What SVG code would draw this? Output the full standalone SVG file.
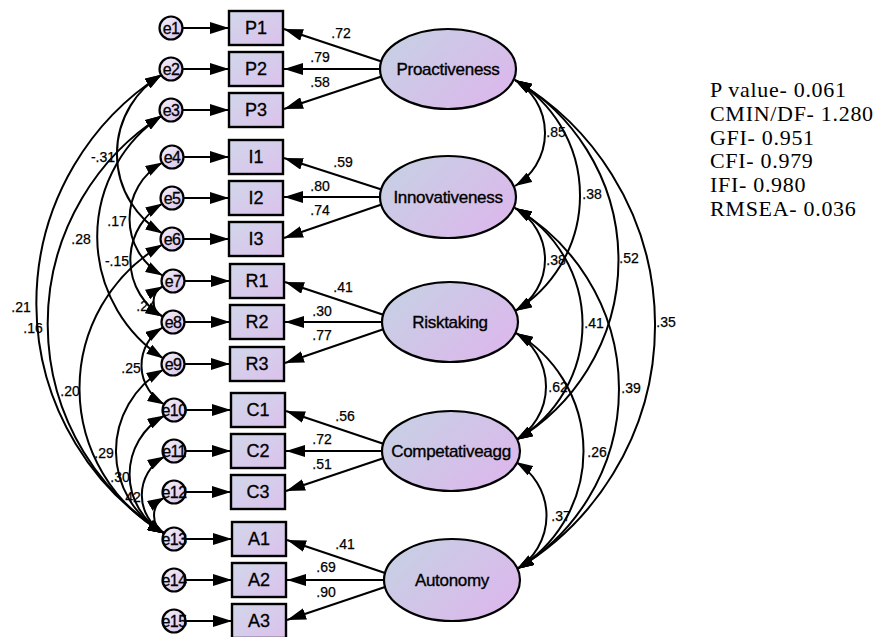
<svg xmlns="http://www.w3.org/2000/svg" width="888" height="637" viewBox="0 0 888 637">
<defs>
<linearGradient id="gBox" x1="0" y1="0" x2="1" y2="1">
<stop offset="0" stop-color="#d1d7ea"/><stop offset="1" stop-color="#dbc1ec"/>
</linearGradient>
<linearGradient id="gEll" x1="0" y1="0.2" x2="1" y2="0.8">
<stop offset="0" stop-color="#c7d0e4"/><stop offset="1" stop-color="#dcb7ec"/>
</linearGradient>
<linearGradient id="gErr" x1="0" y1="0" x2="1" y2="1">
<stop offset="0" stop-color="#f3f1f9"/><stop offset="1" stop-color="#d9c2ec"/>
</linearGradient>
<marker id="ah" viewBox="0 0 19 12" refX="19" refY="6" markerWidth="19" markerHeight="12" markerUnits="userSpaceOnUse" orient="auto-start-reverse">
<path d="M0,0 L19,6 L0,12 z" fill="#000"/>
</marker>
<marker id="ch" viewBox="0 0 17 11" refX="17" refY="5.5" markerWidth="17" markerHeight="11" markerUnits="userSpaceOnUse" orient="auto-start-reverse">
<path d="M0,0 L17,5.5 L0,11 z" fill="#000"/>
</marker>
</defs>
<style>
.box{fill:url(#gBox);stroke:#000;stroke-width:2.4}
.ell{fill:url(#gEll);stroke:#000;stroke-width:2.2}
.err{fill:url(#gErr);stroke:#000;stroke-width:2.2}
.ln{fill:none;stroke:#000;stroke-width:2.2;marker-end:url(#ah)}
.cov{fill:none;stroke:#000;stroke-width:2;marker-start:url(#ch);marker-end:url(#ch)}
.bt{font-family:"Liberation Sans",Arial,sans-serif;font-size:18px;text-anchor:middle;fill:#000;stroke:#000;stroke-width:0.3}
.et{font-family:"Liberation Sans",Arial,sans-serif;font-size:16px;text-anchor:middle;fill:#000;letter-spacing:-0.6px;stroke:#000;stroke-width:0.3}
.lt{font-family:"Liberation Sans",Arial,sans-serif;font-size:17px;text-anchor:middle;fill:#000;letter-spacing:-0.3px;stroke:#000;stroke-width:0.35}
.nt{font-family:"Liberation Sans",Arial,sans-serif;font-size:14px;text-anchor:middle;fill:#000;stroke:#000;stroke-width:0.25}
.st{font-family:"Liberation Serif","Times New Roman",serif;font-size:22px;letter-spacing:0.7px;fill:#000}
</style>

<g id="connectors">
<line class="ln" x1="183" y1="28" x2="229" y2="28"/>
<line class="ln" x1="183" y1="69" x2="229" y2="69"/>
<line class="ln" x1="183" y1="110" x2="229" y2="110"/>
<line class="ln" x1="184" y1="157" x2="229" y2="157"/>
<line class="ln" x1="184" y1="198" x2="229" y2="198"/>
<line class="ln" x1="184" y1="239" x2="229" y2="239"/>
<line class="ln" x1="184" y1="281" x2="230" y2="281"/>
<line class="ln" x1="184" y1="322" x2="230" y2="322"/>
<line class="ln" x1="185" y1="364" x2="230" y2="364"/>
<line class="ln" x1="186" y1="410" x2="231" y2="410"/>
<line class="ln" x1="186" y1="451" x2="231" y2="451"/>
<line class="ln" x1="186" y1="492" x2="231" y2="492"/>
<line class="ln" x1="186" y1="539" x2="232" y2="539"/>
<line class="ln" x1="186" y1="580" x2="232" y2="580"/>
<line class="ln" x1="186" y1="621" x2="232" y2="621"/>
<line class="ln" x1="383" y1="62" x2="284" y2="29"/>
<line class="ln" x1="382" y1="69" x2="284" y2="69"/>
<line class="ln" x1="383" y1="76" x2="284" y2="109"/>
<line class="ln" x1="383" y1="190" x2="284" y2="158"/>
<line class="ln" x1="382" y1="197" x2="284" y2="197"/>
<line class="ln" x1="383" y1="204" x2="284" y2="238"/>
<line class="ln" x1="384" y1="315" x2="285" y2="282"/>
<line class="ln" x1="383" y1="322" x2="285" y2="322"/>
<line class="ln" x1="384" y1="329" x2="285" y2="363"/>
<line class="ln" x1="384" y1="444" x2="286" y2="411"/>
<line class="ln" x1="383" y1="451" x2="286" y2="451"/>
<line class="ln" x1="384" y1="458" x2="286" y2="491"/>
<line class="ln" x1="385" y1="573" x2="287" y2="540"/>
<line class="ln" x1="384" y1="580" x2="287" y2="580"/>
<line class="ln" x1="385" y1="587" x2="287" y2="620"/>
<path class="cov" d="M515,80 A61.8,61.8 0 0 1 515,186"/>
<path class="cov" d="M515,80 A135.1,135.1 0 0 1 515,311"/>
<path class="cov" d="M515,80 A208.8,208.8 0 0 1 516,440"/>
<path class="cov" d="M515,80 A284.5,284.5 0 0 1 517,569"/>
<path class="cov" d="M515,208 A59.2,59.2 0 0 1 515,311"/>
<path class="cov" d="M515,208 A133.9,133.9 0 0 1 516,440"/>
<path class="cov" d="M515,208 A209.7,209.7 0 0 1 517,569"/>
<path class="cov" d="M516,333 A62.7,62.7 0 0 1 516,440"/>
<path class="cov" d="M516,333 A137.4,137.4 0 0 1 517,569"/>
<path class="cov" d="M516,462 A62.7,62.7 0 0 1 517,569"/>
<path class="cov" d="M162,74.5 A92.4,92.4 0 0 0 162.5,233.5"/>
<path class="cov" d="M162,115.5 A145.4,145.4 0 0 0 163.5,358.5"/>
<path class="cov" d="M162.5,162.5 A64.9,64.9 0 0 0 162.5,275.5"/>
<path class="cov" d="M162.5,203.5 A65.7,65.7 0 0 0 162.5,316.5"/>
<path class="cov" d="M162.5,286.5 A17,17 0 0 0 162.5,316.5"/>
<path class="cov" d="M162,74.5 A271,271 0 0 0 164.5,533.5"/>
<path class="cov" d="M162,115.5 A246.8,246.8 0 0 0 164.5,533.5"/>
<path class="cov" d="M162.5,327.5 A44.7,44.7 0 0 0 164.5,404.5"/>
<path class="cov" d="M162.5,244.5 A166.3,166.3 0 0 0 164.5,533.5"/>
<path class="cov" d="M163.5,369.5 A94,94 0 0 0 164.5,533.5"/>
<path class="cov" d="M164.5,415.5 A67.3,67.3 0 0 0 164.5,533.5"/>
<path class="cov" d="M164.5,456.5 A44,44 0 0 0 164.5,533.5"/>
<path class="cov" d="M164.5,497.5 A20.7,20.7 0 0 0 164.5,533.5"/>
</g>

<g id="labels">
<text class="nt" x="341" y="38">.72</text>
<text class="nt" x="320" y="62">.79</text>
<text class="nt" x="320" y="87">.58</text>
<text class="nt" x="343" y="167">.59</text>
<text class="nt" x="320" y="191">.80</text>
<text class="nt" x="320" y="215">.74</text>
<text class="nt" x="343" y="292">.41</text>
<text class="nt" x="322" y="316">.30</text>
<text class="nt" x="322" y="340">.77</text>
<text class="nt" x="345" y="421">.56</text>
<text class="nt" x="322" y="444">.72</text>
<text class="nt" x="322" y="469">.51</text>
<text class="nt" x="345" y="549">.41</text>
<text class="nt" x="326" y="572">.69</text>
<text class="nt" x="326" y="597">.90</text>
<text class="nt" x="556" y="137">.85</text>
<text class="nt" x="592" y="199">.38</text>
<text class="nt" x="629" y="263">.52</text>
<text class="nt" x="666" y="327">.35</text>
<text class="nt" x="556" y="265">.38</text>
<text class="nt" x="594" y="328">.41</text>
<text class="nt" x="558" y="392">.62</text>
<text class="nt" x="631" y="393">.39</text>
<text class="nt" x="597" y="457">.26</text>
<text class="nt" x="561" y="521">.37</text>
<text class="nt" x="103" y="162">-.31</text>
<text class="nt" x="117" y="226">.17</text>
<text class="nt" x="81" y="244">.28</text>
<text class="nt" x="117" y="266">-.15</text>
<text class="nt" x="146" y="311">.24</text>
<text class="nt" x="21" y="312">.21</text>
<text class="nt" x="33" y="333">.16</text>
<text class="nt" x="131" y="373">.25</text>
<text class="nt" x="70" y="396">.20</text>
<text class="nt" x="104" y="458">.29</text>
<text class="nt" x="120" y="482">.30</text>
<text class="nt" x="131" y="502">.42</text>
</g>

<g id="e1"><circle class="err" cx="171" cy="28" r="11.5"/><text class="et" x="171" y="34">e1</text></g>
<g id="e2"><circle class="err" cx="171" cy="69" r="11.5"/><text class="et" x="171" y="75">e2</text></g>
<g id="e3"><circle class="err" cx="171" cy="110" r="11.5"/><text class="et" x="171" y="116">e3</text></g>
<g id="e4"><circle class="err" cx="172" cy="157" r="11.5"/><text class="et" x="172" y="163">e4</text></g>
<g id="e5"><circle class="err" cx="172" cy="198" r="11.5"/><text class="et" x="172" y="204">e5</text></g>
<g id="e6"><circle class="err" cx="172" cy="239" r="11.5"/><text class="et" x="172" y="245">e6</text></g>
<g id="e7"><circle class="err" cx="173" cy="281" r="11.5"/><text class="et" x="173" y="287">e7</text></g>
<g id="e8"><circle class="err" cx="173" cy="322" r="11.5"/><text class="et" x="173" y="328">e8</text></g>
<g id="e9"><circle class="err" cx="173" cy="364" r="11.5"/><text class="et" x="173" y="370">e9</text></g>
<g id="e10"><circle class="err" cx="174" cy="410" r="11.5"/><text class="et" x="174" y="416">e10</text></g>
<g id="e11"><circle class="err" cx="174" cy="451" r="11.5"/><text class="et" x="174" y="457">e11</text></g>
<g id="e12"><circle class="err" cx="174" cy="492" r="11.5"/><text class="et" x="174" y="498">e12</text></g>
<g id="e13"><circle class="err" cx="174" cy="539" r="11.5"/><text class="et" x="174" y="545">e13</text></g>
<g id="e14"><circle class="err" cx="174" cy="580" r="11.5"/><text class="et" x="174" y="586">e14</text></g>
<g id="e15"><circle class="err" cx="174" cy="621" r="11.5"/><text class="et" x="174" y="627">e15</text></g>

<g id="P1"><rect class="box" x="229" y="11" width="54" height="34"/><text class="bt" x="256" y="34">P1</text></g>
<g id="P2"><rect class="box" x="229" y="52" width="54" height="34"/><text class="bt" x="256" y="75">P2</text></g>
<g id="P3"><rect class="box" x="229" y="93" width="54" height="34"/><text class="bt" x="256" y="116">P3</text></g>
<g id="I1"><rect class="box" x="229" y="140" width="54" height="34"/><text class="bt" x="256" y="163">I1</text></g>
<g id="I2"><rect class="box" x="229" y="181" width="54" height="34"/><text class="bt" x="256" y="204">I2</text></g>
<g id="I3"><rect class="box" x="229" y="222" width="54" height="34"/><text class="bt" x="256" y="245">I3</text></g>
<g id="R1"><rect class="box" x="230" y="264" width="54" height="34"/><text class="bt" x="257" y="287">R1</text></g>
<g id="R2"><rect class="box" x="230" y="305" width="54" height="34"/><text class="bt" x="257" y="328">R2</text></g>
<g id="R3"><rect class="box" x="230" y="347" width="54" height="34"/><text class="bt" x="257" y="370">R3</text></g>
<g id="C1"><rect class="box" x="231" y="393" width="54" height="34"/><text class="bt" x="258" y="416">C1</text></g>
<g id="C2"><rect class="box" x="231" y="434" width="54" height="34"/><text class="bt" x="258" y="457">C2</text></g>
<g id="C3"><rect class="box" x="231" y="475" width="54" height="34"/><text class="bt" x="258" y="498">C3</text></g>
<g id="A1"><rect class="box" x="232" y="522" width="54" height="34"/><text class="bt" x="259" y="545">A1</text></g>
<g id="A2"><rect class="box" x="232" y="563" width="54" height="34"/><text class="bt" x="259" y="586">A2</text></g>
<g id="A3"><rect class="box" x="232" y="604" width="54" height="34"/><text class="bt" x="259" y="627">A3</text></g>

<g id="Proactiveness"><ellipse class="ell" cx="448" cy="69" rx="68" ry="40"/><text class="lt" x="448" y="75">Proactiveness</text></g>
<g id="Innovativeness"><ellipse class="ell" cx="448" cy="197" rx="68" ry="41"/><text class="lt" x="448" y="203">Innovativeness</text></g>
<g id="Risktaking"><ellipse class="ell" cx="450" cy="322" rx="68" ry="40"/><text class="lt" x="450" y="328">Risktaking</text></g>
<g id="Competativeagg"><ellipse class="ell" cx="451" cy="451" rx="69" ry="40"/><text class="lt" x="451" y="457">Competativeagg</text></g>
<g id="Autonomy"><ellipse class="ell" cx="452" cy="580" rx="68" ry="41"/><text class="lt" x="452" y="586">Autonomy</text></g>

<g id="fit">
<text class="st" x="710" y="97">P value- 0.061</text>
<text class="st" x="710" y="121">CMIN/DF- 1.280</text>
<text class="st" x="710" y="145">GFI- 0.951</text>
<text class="st" x="710" y="168">CFI- 0.979</text>
<text class="st" x="710" y="192">IFI- 0.980</text>
<text class="st" x="710" y="216">RMSEA- 0.036</text>
</g>
</svg>
